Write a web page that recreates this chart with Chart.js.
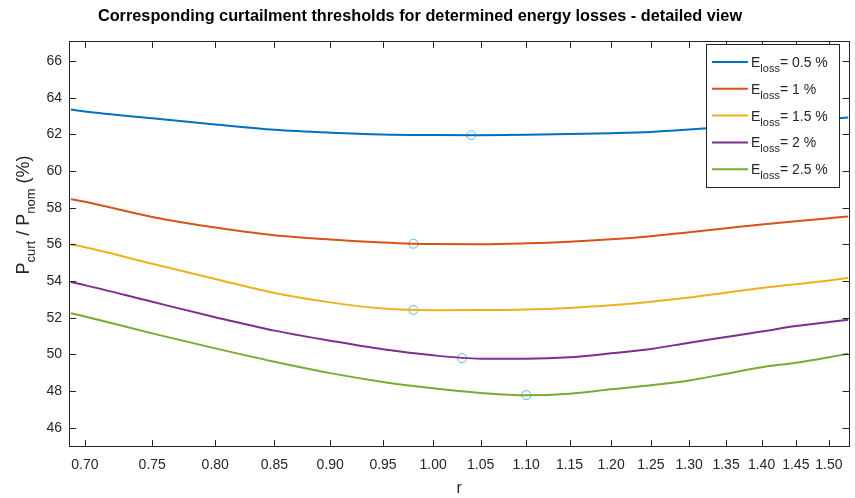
<!DOCTYPE html>
<html>
<head>
<meta charset="utf-8">
<script src="https://cdn.jsdelivr.net/npm/chart.js@4/dist/chart.umd.min.js"></script>
<style>
  html, body { margin: 0; padding: 0; background: #ffffff; }
  #wrap { width: 855px; height: 498px; }
</style>
</head>
<body>
<div id="wrap"><canvas id="thresholds" width="855" height="498"></canvas></div>
<script>
const rValues = [0.69, 0.70, 0.75, 0.80, 0.85, 0.90, 0.95, 1.00, 1.05, 1.10, 1.15, 1.20, 1.25, 1.30, 1.35, 1.40, 1.45, 1.50, 1.53];

// P_curt / P_nom (%) for each energy loss level
const loss05 = [63.36, 63.25, 62.88, 62.55, 62.26, 62.10, 62.00, 61.97, 61.96, 61.98, 62.02, 62.07, 62.14, 62.27, 62.42, 62.57, 62.72, 62.85, 62.92];
const loss10 = [58.47, 58.33, 57.50, 56.92, 56.50, 56.27, 56.11, 56.02, 56.01, 56.06, 56.15, 56.28, 56.45, 56.66, 56.88, 57.09, 57.26, 57.43, 57.53];
const loss15 = [56.00, 55.85, 54.95, 54.12, 53.35, 52.84, 52.50, 52.41, 52.42, 52.45, 52.54, 52.68, 52.88, 53.10, 53.37, 53.62, 53.83, 54.03, 54.18];
const loss20 = [53.95, 53.78, 52.87, 52.03, 51.30, 50.75, 50.28, 49.95, 49.77, 49.76, 49.84, 50.06, 50.30, 50.64, 50.95, 51.25, 51.55, 51.77, 51.89];
const loss25 = [52.25, 52.07, 51.15, 50.33, 49.60, 48.98, 48.50, 48.15, 47.90, 47.77, 47.86, 48.10, 48.32, 48.58, 48.95, 49.30, 49.55, 49.85, 50.04];

const lossLabels = ["= 0.5 %", "= 1 %", "= 1.5 %", "= 2 %", "= 2.5 %"];
const lossColors = ["#0072BD", "#D95319", "#EDB120", "#7E2F8E", "#77AC30"];

// minimum of each curve (circle markers)
const minR = [1.04, 0.98, 0.98, 1.03, 1.10];
const minP = [61.96, 56.04, 52.43, 49.80, 47.78];

const xTicks = [0.70, 0.75, 0.80, 0.85, 0.90, 0.95, 1.00, 1.05, 1.10, 1.15, 1.20, 1.25, 1.30, 1.35, 1.40, 1.45, 1.50];
const yTicks = [46, 48, 50, 52, 54, 56, 58, 60, 62, 64, 66];

const FONT = "'Liberation Sans', Arial, Helvetica, sans-serif";
const INK = "#262626";

const series = [loss05, loss10, loss15, loss20, loss25];

function richWidth(ctx, parts, base, sub) {
  let w = 0;
  parts.forEach(([t, s]) => {
    ctx.font = s ? sub : base;
    w += ctx.measureText(t).width;
  });
  return w;
}

function drawRich(ctx, parts, x, y, base, sub, drop) {
  parts.forEach(([t, s]) => {
    ctx.font = s ? sub : base;
    ctx.fillText(t, x, s ? y + drop : y);
    x += ctx.measureText(t).width;
  });
}

const matlabLook = {
  id: "matlabLook",
  afterDraw(chart) {
    const ctx = chart.ctx;
    const area = chart.chartArea;
    const xs = chart.scales.x;
    const ys = chart.scales.y;
    const tick = 7;

    ctx.save();
    ctx.strokeStyle = INK;
    ctx.lineWidth = 1;
    ctx.beginPath();
    xTicks.forEach((v) => {
      const px = Math.round(xs.getPixelForValue(v)) + 0.5;
      ctx.moveTo(px, area.bottom);
      ctx.lineTo(px, area.bottom - tick);
      ctx.moveTo(px, area.top);
      ctx.lineTo(px, area.top + tick);
    });
    yTicks.forEach((v) => {
      const py = Math.round(ys.getPixelForValue(v)) + 0.5;
      ctx.moveTo(area.left, py);
      ctx.lineTo(area.left + tick, py);
      ctx.moveTo(area.right, py);
      ctx.lineTo(area.right - tick, py);
    });
    ctx.stroke();
    ctx.strokeRect(Math.round(area.left) + 0.5, Math.round(area.top) + 0.5,
      Math.round(area.right - area.left) - 1, Math.round(area.bottom - area.top) - 1);

    // title
    ctx.fillStyle = "#000000";
    ctx.font = `bold 16.3px ${FONT}`;
    ctx.textAlign = "center";
    ctx.textBaseline = "alphabetic";
    ctx.fillText("Corresponding curtailment thresholds for determined energy losses - detailed view", 420, 21);

    // x label
    ctx.fillStyle = INK;
    ctx.font = `16px ${FONT}`;
    ctx.fillText("r", (area.left + area.right) / 2, 493);

    // y label with subscripts
    const base = `18px ${FONT}`;
    const sub = `13px ${FONT}`;
    const yParts = [["P", false], ["curt", true], [" / P", false], ["nom", true], [" (%)", false]];
    const yw = richWidth(ctx, yParts, base, sub);
    ctx.save();
    ctx.translate(29, 215);
    ctx.rotate(-Math.PI / 2);
    ctx.textAlign = "left";
    drawRich(ctx, yParts, -yw / 2, 0, base, sub, 6);
    ctx.restore();

    // legend
    const box = { x: 706, y: 44, w: 133, h: 143 };
    ctx.fillStyle = "#ffffff";
    ctx.fillRect(box.x, box.y, box.w, box.h);
    ctx.strokeStyle = INK;
    ctx.strokeRect(box.x + 0.5, box.y + 0.5, box.w, box.h);
    ctx.textAlign = "left";
    lossLabels.forEach((label, i) => {
      const ly = 62 + i * 26.8;
      ctx.strokeStyle = lossColors[i];
      ctx.lineWidth = 2;
      ctx.beginPath();
      ctx.moveTo(712, ly);
      ctx.lineTo(748, ly);
      ctx.stroke();
      ctx.fillStyle = INK;
      drawRich(ctx, [["E", false], ["loss", true], [label, false]], 751, ly + 5,
        `14px ${FONT}`, `11px ${FONT}`, 5);
    });
    ctx.restore();
  },
};

const datasets = series.map((values, i) => ({
  label: "E_loss " + lossLabels[i],
  data: rValues.map((r, k) => ({ x: r, y: values[k] })),
  borderColor: lossColors[i],
  borderWidth: 2,
  pointRadius: 0,
  cubicInterpolationMode: "monotone",
  fill: false,
}));

datasets.push({
  label: "minimum",
  data: minR.map((r, k) => ({ x: r, y: minP[k] })),
  showLine: false,
  pointStyle: "circle",
  pointRadius: 4.5,
  pointBorderWidth: 1,
  pointBorderColor: "#4DBEEE",
  pointBackgroundColor: "rgba(0,0,0,0)",
});

new Chart(document.getElementById("thresholds"), {
  type: "line",
  data: { datasets },
  options: {
    responsive: false,
    animation: false,
    devicePixelRatio: 1,
    layout: { padding: { top: 41, right: 1, left: 0, bottom: 0 } },
    plugins: {
      legend: { display: false },
      title: { display: false },
      tooltip: { enabled: false },
    },
    scales: {
      x: {
        type: "logarithmic",
        min: 0.6887,
        max: 1.532,
        grid: { display: false, drawTicks: false },
        border: { display: false },
        afterBuildTicks(scale) {
          scale.ticks = xTicks.map((v) => ({ value: v }));
        },
        afterFit(scale) {
          scale.height = 51;
        },
        ticks: {
          autoSkip: false,
          maxRotation: 0,
          padding: 10,
          color: INK,
          font: { family: FONT, size: 14 },
          callback: (v) => Number(v).toFixed(2),
        },
      },
      y: {
        type: "linear",
        min: 44.95,
        max: 67.1,
        grid: { display: false, drawTicks: false },
        border: { display: false },
        afterBuildTicks(scale) {
          scale.ticks = yTicks.map((v) => ({ value: v }));
        },
        afterFit(scale) {
          scale.width = 69;
        },
        ticks: {
          padding: 7,
          color: INK,
          font: { family: FONT, size: 14 },
        },
      },
    },
  },
  plugins: [matlabLook],
});
</script>
</body>
</html>
